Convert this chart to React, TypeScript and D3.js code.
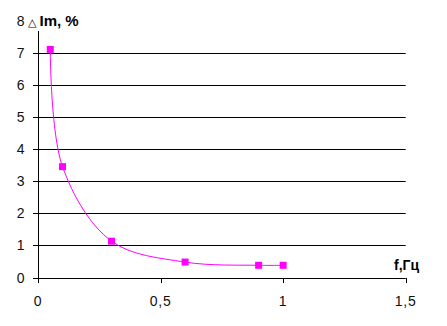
import React from 'react';
import * as d3 from 'd3';

const freqs = [0.05, 0.1, 0.3, 0.6, 0.9, 1.0];
const deltaIm = [7.1, 3.45, 1.13, 0.48, 0.38, 0.38];
const xTicks = [0, 0.5, 1, 1.5];
const xTickLabels = ['0', '0,5', '1', '1,5'];
const yTicks = [0, 1, 2, 3, 4, 5, 6, 7, 8];

const W = 447;
const H = 326;

const App: React.FC = () => {
    const x = d3.scaleLinear().domain([0, 1.5]).range([38, 405.7]);
    const y = d3.scaleLinear().domain([0, 8]).range([277.5, 20.5]);

    const pts = freqs.map((f, i) => [x(f), y(deltaIm[i])] as [number, number]);
    const line = d3.line().curve(d3.curveCatmullRom.alpha(0.5));
    const font = 'Liberation Sans, Arial, sans-serif';

    return (
        <div style={{ position: 'absolute', left: 0, top: 0 }}>
            <svg width={W} height={H} style={{ display: 'block', background: '#fff' }}>
                {/* gridlines + y ticks */}
                {yTicks.filter((t) => t > 0 && t < 8).map((t) => (
                    <line key={'g' + t} x1={33} x2={x(1.5)} y1={Math.round(y(t)) + 0.5} y2={Math.round(y(t)) + 0.5} stroke="#000" />
                ))}
                {/* x axis */}
                <line x1={33} x2={x(1.5)} y1={Math.round(y(0)) + 0.5} y2={Math.round(y(0)) + 0.5} stroke="#000" />
                {xTicks.map((t) => (
                    <line key={'xt' + t} x1={Math.round(x(t)) + 0.5} x2={Math.round(x(t)) + 0.5} y1={Math.round(y(0))} y2={Math.round(y(0)) + 5} stroke="#000" />
                ))}
                {/* y axis */}
                <line x1={Math.round(x(0)) + 0.5} x2={Math.round(x(0)) + 0.5} y1={31} y2={Math.round(y(0)) + 5} stroke="#000" />
                {/* y tick labels */}
                {yTicks.map((t) => (
                    <text key={'yl' + t} x={24.5} y={y(t) + 5} textAnchor="end" fontFamily={font} fontSize={14} fill="#111">
                        {t}
                    </text>
                ))}
                {/* x tick labels */}
                {xTicks.map((t, i) => (
                    <text key={'xl' + t} x={x(t)} y={306} textAnchor="middle" fontFamily={font} fontSize={14} letterSpacing={0.8} fill="#111">
                        {xTickLabels[i]}
                    </text>
                ))}
                {/* axis titles */}
                <text x={28} y={26} fontFamily={font} fill="#000">
                    <tspan fontFamily="DejaVu Sans, sans-serif" fontSize={11}>△</tspan>
                    <tspan dx={3} fontSize={15} fontWeight="bold">Im, %</tspan>
                </text>
                <text x={394} y={270} fontFamily={font} fontSize={14} fontWeight="bold" fill="#000">
                    f,Гц
                </text>
                {/* series */}
                <path d={line(pts) || ''} fill="none" stroke="#ff00ff" strokeWidth={1} />
                {pts.map((p, i) => (
                    <rect key={'m' + i} x={p[0] - 3.5} y={p[1] - 3.5} width={7} height={7} fill="#ff00ff" />
                ))}
            </svg>
        </div>
    );
};

export default App;
